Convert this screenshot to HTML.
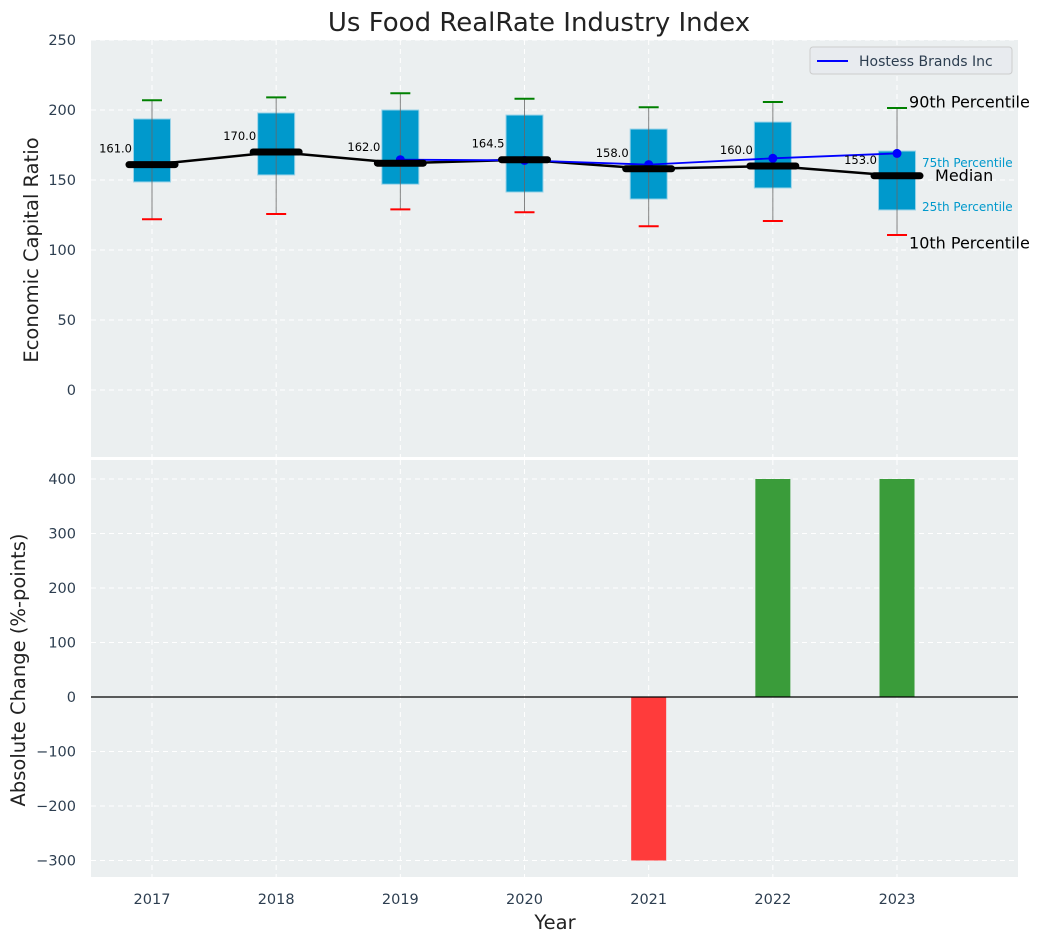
<!DOCTYPE html>
<html><head><meta charset="utf-8"><style>
body{margin:0;background:#fff}
svg{display:block;font-family:"DejaVu Sans","Liberation Sans",sans-serif}
</style></head><body>
<svg id="c" width="1044" height="942"></svg>
<script>
const years=[2017,2018,2019,2020,2021,2022,2023];
const p90=[207,209,212,208,202,205.7,201.4];
const p75=[193.6,197.9,200,196.4,186.4,191.4,170.7];
const medians=[161,170,162,164.5,158,160,153];
const p25=[148.6,153.6,147,141.4,136.4,144.3,128.6];
const p10=[122,125.7,129,127,117,120.7,110.7];
const hostessYears=[2019,2020,2021,2022,2023];
const hostess=[164.5,164,161,165.5,169];
const changeYears=[2021,2022,2023];
const changes=[-300,400,400];
const topTicks=[0,50,100,150,200,250];
const botTicks=[-300,-200,-100,0,100,200,300,400];

const NS='http://www.w3.org/2000/svg';
const svg=document.getElementById('c');
function el(t,a,parent){const e=document.createElementNS(NS,t);for(const k in a)e.setAttribute(k,a[k]);(parent||svg).appendChild(e);return e;}
const X0=91,X1=1018;
const xs=y=>152+(y-2017)*124.17;
const yT=v=>390-v*1.4;
const yB=v=>697-v*0.545;

let p=el('rect',{x:X0,y:40,width:X1-X0,height:417,fill:'#ebeff0'});

p=el('rect',{x:X0,y:460,width:X1-X0,height:417,fill:'#ebeff0'});


years.forEach(y=>{
  el('line',{x1:xs(y),x2:xs(y),y1:40,y2:457,stroke:'#fff','stroke-dasharray':'5,4','stroke-width':1});
  el('line',{x1:xs(y),x2:xs(y),y1:460,y2:877,stroke:'#fff','stroke-dasharray':'5,4','stroke-width':1});
  const t=el('text',{x:xs(y),y:904,'text-anchor':'middle','font-size':14.5,fill:'#2d3e50'});t.textContent=y;
  
});
topTicks.forEach(v=>{
  el('line',{x1:X0,x2:X1,y1:yT(v),y2:yT(v),stroke:'#fff','stroke-dasharray':'5,4'});
  const t=el('text',{x:76,y:yT(v)+5,'text-anchor':'end','font-size':14.5,fill:'#2d3e50'});t.textContent=v;
  
});
botTicks.forEach(v=>{
  el('line',{x1:X0,x2:X1,y1:yB(v),y2:yB(v),stroke:'#fff','stroke-dasharray':'5,4'});
  const t=el('text',{x:76,y:yB(v)+5,'text-anchor':'end','font-size':14.5,fill:'#2d3e50'});t.textContent=v<0?'\u2212'+(-v):v;
  
});

years.forEach((y,i)=>{
  const x=xs(y);
  const g=el('g',{});
  
  el('rect',{x:x-18.5,y:yT(p75[i]),width:37,height:yT(p25[i])-yT(p75[i]),fill:'#0099cc',stroke:'#9ad3e8','stroke-width':1},g);
  el('line',{x1:x,x2:x,y1:yT(p90[i]),y2:yT(p10[i]),stroke:'#666','stroke-width':1,'stroke-opacity':0.8},g);
  el('line',{x1:x-10,x2:x+10,y1:yT(p90[i]),y2:yT(p90[i]),stroke:'green','stroke-width':2},g);
  el('line',{x1:x-10,x2:x+10,y1:yT(p10[i]),y2:yT(p10[i]),stroke:'red','stroke-width':2},g);
});
let d=years.map((y,i)=>(i?'L':'M')+xs(y)+','+yT(medians[i])).join('');
let m=el('path',{d:d,fill:'none',stroke:'#000','stroke-width':2.5});

d=hostessYears.map((y,i)=>(i?'L':'M')+xs(y)+','+yT(hostess[i])).join('');
m=el('path',{d:d,fill:'none',stroke:'#0000ff','stroke-width':1.8});

hostessYears.forEach((y,i)=>{
  const c=el('circle',{cx:xs(y),cy:yT(hostess[i]),r:4.5,fill:'#0000ff'});
  
});
years.forEach((y,i)=>{
  const x=xs(y);
  const l=el('line',{x1:x-23,x2:x+23,y1:yT(medians[i]),y2:yT(medians[i]),stroke:'#000','stroke-width':7,'stroke-linecap':'round'});
  
  const t=el('text',{x:x-20,y:yT(medians[i])-12,'text-anchor':'end','font-size':11.5,fill:'#000'});t.textContent=medians[i].toFixed(1);
  
});
const last=years.length-1,lx=xs(years[last]);
[['90th Percentile',p90[last]+4,12,16,'#000'],['75th Percentile',p75[last]-8,25,12,'#0099cc'],['Median',medians[last]-0,38,16,'#000'],['25th Percentile',p25[last]+3,25,12,'#0099cc'],['10th Percentile',p10[last]-6,12,16,'#000']].forEach(a=>{
  const t=el('text',{x:lx+a[2],y:yT(a[1])+5,'font-size':a[3],fill:a[4]});t.textContent=a[0];
  
});
const lg=el('g',{});
el('rect',{x:810,y:47,width:202,height:27,rx:3,fill:'#e8ebef',stroke:'#ccc'},lg);
el('line',{x1:817,x2:848,y1:61,y2:61,stroke:'#0000ff','stroke-width':2},lg);
let t=el('text',{x:859,y:66,'font-size':14,fill:'#2d3e50'},lg);t.textContent='Hostess Brands Inc';

changeYears.forEach((y,i)=>{
  const v=changes[i];
  const r=el('rect',{x:xs(y)-17.5,y:Math.min(yB(v),yB(0)),width:35,height:Math.abs(yB(v)-yB(0)),fill:v<0?'#ff3b3b':'#3a9c3a'});
  
});
el('line',{x1:X0,x2:X1,y1:yB(0),y2:yB(0),stroke:'#000','stroke-width':1.2});

t=el('text',{x:539,y:31,'text-anchor':'middle','font-size':26,fill:'#222'});t.textContent='Us Food RealRate Industry Index';

t=el('text',{x:555,y:929,'text-anchor':'middle','font-size':19.5,fill:'#222'});t.textContent='Year';

t=el('text',{x:38,y:250,'text-anchor':'middle','font-size':19.5,fill:'#222',transform:'rotate(-90 38 250)'});t.textContent='Economic Capital Ratio';

t=el('text',{x:25,y:670,'text-anchor':'middle','font-size':19.5,fill:'#222',transform:'rotate(-90 25 670)'});t.textContent='Absolute Change (%-points)';


</script>
</body></html>
